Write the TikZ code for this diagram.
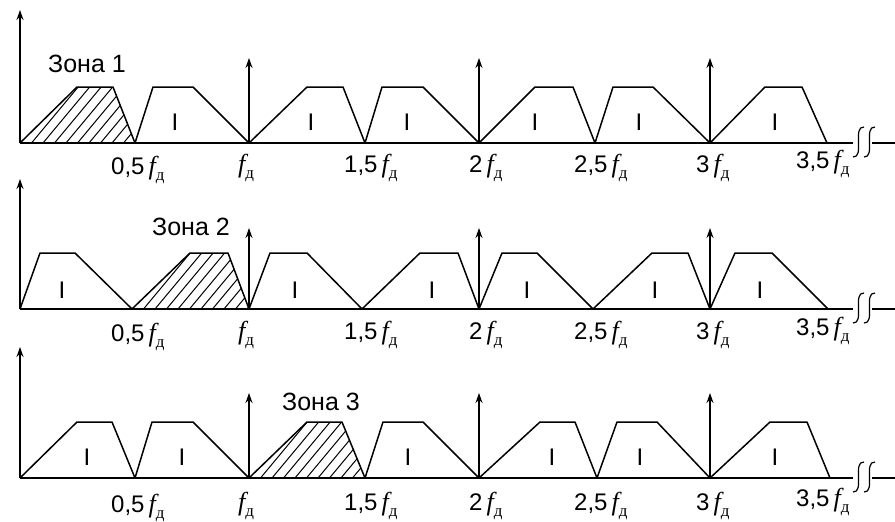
\documentclass[tikz,border=0pt]{standalone}
\usepackage{fontspec}
\setmainfont{Liberation Sans}
\newfontfamily\seriffam{Liberation Serif}
\usetikzlibrary{arrows.meta}
\newcommand{\fd}{{\seriffam\itshape\fontsize{26}{26}\selectfont f}\raisebox{-0.28em}{\seriffam\fontsize{17}{17}\selectfont д}}
\begin{document}
\begin{tikzpicture}[x=1pt,y=-1pt, line join=round,
  ln/.style={draw=black, line width=1.5pt},
  spec/.style={draw=black, line width=1.5pt},
  hatch/.style={draw=black, line width=1pt},
  imp/.style={draw=black, line width=1.5pt, -{Stealth[length=10pt,width=7pt]}},
  brk/.style={draw=black, line width=1.2pt},
  lab/.style={anchor=base west, inner sep=0pt, font=\fontsize{24}{24}\selectfont},
  zone/.style={anchor=base west, inner sep=0pt, font=\fontsize{25}{25}\selectfont},
  rom/.style={anchor=base, inner sep=0pt, font=\fontsize{24}{24}\selectfont}]
\useasboundingbox (0,0) rectangle (895,522);

% ---------- generic row elements ----------
\foreach \r/\b/\tip/\itip/\lb in {1/143/10/58/172, 2/309/179/228/339, 3/478/347/393/510}{
  \coordinate (o\r) at (20,\b);
  \coordinate (ya\r) at (20,\tip);
  \coordinate (xe\r) at (853,\b);
  \coordinate (xs\r) at (872,\b);
  \coordinate (xr\r) at (895,\b);
  \draw[ln] (o\r) -- (xe\r);
  \draw[ln] (xs\r) -- (xr\r);
  \draw[imp] (o\r) -- (ya\r);
  \foreach \xx in {858,869}{
    \draw[brk] (\xx+6,\b-16) .. controls (\xx-6,\b-17) and (\xx+7,\b+15) .. (\xx-5,\b+14);
  }
  \foreach \k/\xx in {1/249,2/479,3/710}{
    \coordinate (ib\r\k) at (\xx,\b);
    \coordinate (it\r\k) at (\xx,\itip);
    \draw[imp] (ib\r\k) -- (it\r\k);
  }
  \node[lab] (l\r a) at (111,\lb+2) {0,5\,\fd};
  \node[lab] (l\r b) at (238,\lb) {\fd};
  \node[lab] (l\r c) at (344,\lb) {1,5\,\fd};
  \node[lab] (l\r d) at (469,\lb) {2\,\fd};
  \node[lab] (l\r e) at (574,\lb) {2,5\,\fd};
  \node[lab] (l\r f) at (696,\lb) {3\,\fd};
  \node[lab] (l\r g) at (796,\lb-4) {3,5\,\fd};
}

% ---------- row 1 ----------
\begin{scope}
  \clip (20,143) -- (77,87) -- (113,87) -- (135,143) -- cycle;
  \foreach \i in {-7,...,12} \draw[hatch] (20+\i*11.5,143) -- ++(60,-72);
\end{scope}
\draw[spec] (20,143) -- (77,87) -- (113,87) -- (135,143);
\draw[spec] (135,143) -- (153,87) -- (193,87) -- (249,143);
\draw[spec] (249,143) -- (307,87) -- (343,87) -- (365,143);
\draw[spec] (365,143) -- (382,87) -- (423,87) -- (479,143);
\draw[spec] (479,143) -- (535,87) -- (573,87) -- (595,143);
\draw[spec] (595,143) -- (613,87) -- (653,87) -- (710,143);
\draw[spec] (710,143) -- (765,87) -- (802,87) -- (827,143);
\node[zone] (z1) at (48,72) {Зона 1};
\foreach \n/\xx in {a/175,b/311,c/407,d/535,e/639,f/775}
  \node[rom] (r1\n) at (\xx,130) {I};

% ---------- row 2 ----------
\begin{scope}
  \clip (132,309) -- (190,253) -- (228,253) -- (249,309) -- cycle;
  \foreach \i in {-7,...,12} \draw[hatch] (132+\i*11.5,309) -- ++(60,-72);
\end{scope}
\draw[spec] (20,309) -- (40,253) -- (75,253) -- (132,309);
\draw[spec] (132,309) -- (190,253) -- (228,253) -- (249,309);
\draw[spec] (249,309) -- (270,253) -- (307,253) -- (362,309);
\draw[spec] (362,309) -- (420,253) -- (458,253) -- (479,309);
\draw[spec] (479,309) -- (502,253) -- (537,253) -- (593,309);
\draw[spec] (593,309) -- (652,253) -- (688,253) -- (710,309);
\draw[spec] (710,309) -- (735,253) -- (772,253) -- (828,309);
\node[zone] (z2) at (152,235) {Зона 2};
\foreach \n/\xx in {a/62,b/295,c/432,d/527,e/655,f/760}
  \node[rom] (r2\n) at (\xx,298) {I};

% ---------- row 3 ----------
\begin{scope}
  \clip (249,478) -- (307,422) -- (342,422) -- (365,478) -- cycle;
  \foreach \i in {-7,...,12} \draw[hatch] (249+\i*11.5,478) -- ++(60,-72);
\end{scope}
\draw[spec] (20,478) -- (77,422) -- (112,422) -- (135,478);
\draw[spec] (135,478) -- (152,422) -- (193,422) -- (249,478);
\draw[spec] (249,478) -- (307,422) -- (342,422) -- (365,478);
\draw[spec] (365,478) -- (383,422) -- (423,422) -- (479,478);
\draw[spec] (479,478) -- (540,422) -- (575,422) -- (597,478);
\draw[spec] (597,478) -- (617,422) -- (657,422) -- (710,478);
\draw[spec] (710,478) -- (770,422) -- (807,422) -- (830,478);
\node[zone] (z3) at (282,410) {Зона 3};
\foreach \n/\xx in {a/87,b/182,c/408,d/552,e/640,f/775}
  \node[rom] (r3\n) at (\xx,465) {I};
\end{tikzpicture}
\end{document}
